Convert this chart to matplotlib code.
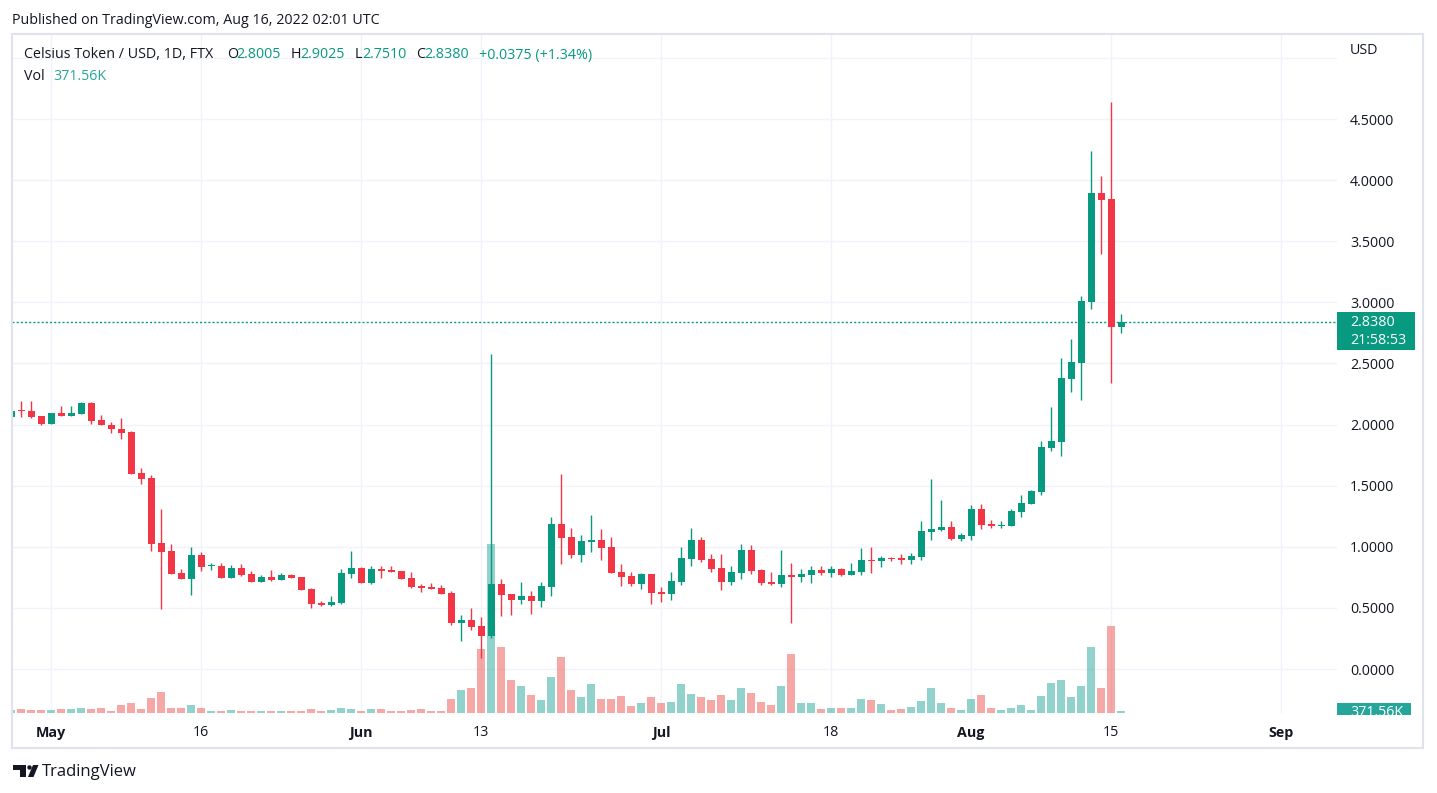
import numpy as np
import pandas as pd
import matplotlib
matplotlib.use("Agg")
import matplotlib.pyplot as plt
import matplotlib.dates as mdates
import matplotlib.transforms as mtransforms
from matplotlib.patches import Rectangle, Polygon, Circle

# CEL/USD daily candles, 27 Apr - 16 Aug 2022
dates = pd.date_range("2022-04-27", "2022-08-16", freq="D")

opens = [2.06, 2.115, 2.11, 2.07, 2.007, 2.095, 2.073, 2.09, 2.177, 2.038,
         2.0, 1.965, 1.94, 1.60, 1.563, 1.03, 0.966, 0.786, 0.739, 0.933,
         0.840, 0.843, 0.747, 0.827, 0.777, 0.712, 0.753, 0.728, 0.769, 0.753,
         0.655, 0.54, 0.524, 0.54, 0.777, 0.827, 0.704, 0.818, 0.81, 0.802,
         0.745, 0.679, 0.671, 0.663, 0.622, 0.376, 0.401, 0.352, 0.273, 0.696,
         0.614, 0.565, 0.597, 0.556, 0.671, 1.187, 1.08, 0.933, 1.039, 1.056,
         0.998, 0.794, 0.761, 0.696, 0.777, 0.63, 0.614, 0.712, 0.9, 1.056,
         0.9, 0.827, 0.712, 0.786, 0.974, 0.81, 0.712, 0.696, 0.769, 0.753,
         0.769, 0.81, 0.786, 0.818, 0.769, 0.794, 0.892, 0.884, 0.908, 0.908,
         0.892, 0.917, 1.121, 1.137, 1.162, 1.064, 1.091, 1.309, 1.187, 1.17,
         1.173, 1.287, 1.353, 1.451, 1.811, 1.86, 2.376, 2.507, 3.006, 3.895,
         3.846, 2.8005]
highs = [2.12, 2.19, 2.19, 2.07, 2.095, 2.152, 2.152, 2.185, 2.185, 2.079,
         2.02, 2.054, 1.948, 1.645, 1.588, 1.31, 1.023, 0.818, 0.998, 0.957,
         0.867, 0.867, 0.851, 0.859, 0.802, 0.769, 0.81, 0.786, 0.777, 0.753,
         0.663, 0.556, 0.597, 0.818, 0.966, 0.835, 0.843, 0.843, 0.843, 0.802,
         0.794, 0.696, 0.704, 0.687, 0.638, 0.442, 0.499, 0.428, 2.578, 0.736,
         0.614, 0.712, 0.638, 0.712, 1.244, 1.596, 1.154, 1.097, 1.26, 1.146,
         1.08, 0.859, 0.794, 0.786, 0.78, 0.671, 0.794, 0.998, 1.154, 1.08,
         0.941, 0.941, 0.843, 1.023, 1.015, 0.818, 0.794, 0.974, 0.867, 0.818,
         0.843, 0.843, 0.843, 0.827, 0.867, 0.99, 0.998, 0.925, 0.917, 0.941,
         0.949, 1.211, 1.555, 1.383, 1.211, 1.113, 1.342, 1.35, 1.219, 1.211,
         1.309, 1.424, 1.465, 1.866, 2.147, 2.548, 2.703, 3.052, 4.239, 4.034,
         4.64, 2.9025]
lows = [2.05, 2.065, 2.057, 2.0, 2.007, 2.073, 2.073, 2.089, 2.007, 1.998,
        1.934, 1.885, 1.598, 1.516, 0.968, 0.493, 0.78, 0.739, 0.608, 0.804,
        0.813, 0.747, 0.747, 0.763, 0.712, 0.712, 0.723, 0.728, 0.745, 0.646,
        0.499, 0.516, 0.516, 0.532, 0.745, 0.704, 0.696, 0.745, 0.794, 0.737,
        0.663, 0.63, 0.655, 0.614, 0.36, 0.229, 0.319, 0.092, 0.256, 0.434,
        0.442, 0.532, 0.45, 0.507, 0.597, 0.859, 0.908, 0.876, 0.957, 0.892,
        0.786, 0.679, 0.679, 0.655, 0.532, 0.548, 0.565, 0.687, 0.843, 0.876,
        0.794, 0.646, 0.687, 0.736, 0.777, 0.687, 0.687, 0.671, 0.376, 0.712,
        0.704, 0.769, 0.753, 0.761, 0.769, 0.769, 0.786, 0.835, 0.884, 0.859,
        0.859, 0.892, 1.056, 1.129, 1.056, 1.047, 1.056, 1.146, 1.154, 1.154,
        1.17, 1.244, 1.35, 1.424, 1.786, 1.745, 2.269, 2.204, 2.948, 3.399,
        2.343, 2.751]
closes = [2.11, 2.11, 2.065, 2.007, 2.095, 2.073, 2.095, 2.177, 2.032, 2.0,
          1.964, 1.934, 1.598, 1.557, 1.025, 0.96, 0.78, 0.739, 0.933, 0.837,
          0.845, 0.747, 0.827, 0.772, 0.712, 0.753, 0.728, 0.769, 0.745, 0.646,
          0.532, 0.524, 0.548, 0.786, 0.827, 0.704, 0.818, 0.802, 0.794, 0.737,
          0.671, 0.663, 0.655, 0.614, 0.376, 0.401, 0.344, 0.273, 0.696, 0.606,
          0.565, 0.597, 0.556, 0.679, 1.187, 1.072, 0.933, 1.047, 1.056, 0.99,
          0.786, 0.753, 0.696, 0.777, 0.622, 0.614, 0.72, 0.908, 1.056, 0.892,
          0.818, 0.712, 0.794, 0.974, 0.802, 0.704, 0.696, 0.769, 0.753, 0.777,
          0.81, 0.786, 0.818, 0.769, 0.802, 0.892, 0.884, 0.908, 0.9, 0.892,
          0.925, 1.129, 1.146, 1.162, 1.064, 1.097, 1.309, 1.178, 1.17, 1.178,
          1.293, 1.358, 1.457, 1.817, 1.866, 2.384, 2.512, 3.011, 3.895, 3.841,
          2.8005, 2.838]
# volume in thousands
volumes = [480, 650, 490, 480, 490, 640, 650, 810, 640, 800,
           330, 1290, 1620, 650, 2420, 3390, 810, 800, 1300, 810,
           330, 320, 490, 330, 320, 330, 320, 330, 320, 330,
           650, 330, 490, 800, 650, 320, 640, 650, 330, 320,
           490, 650, 330, 320, 2260, 3720, 4040, 10340, 27450, 10660,
           5330, 4360, 2910, 2100, 5810, 9040, 3720, 2580, 4680, 2260,
           2260, 2750, 1130, 1620, 2580, 1620, 1780, 4680, 3070, 2580,
           2100, 2910, 2100, 4040, 3230, 1780, 1290, 4360, 9530, 1620,
           1620, 650, 810, 800, 810, 2260, 2100, 1450, 490, 650,
           970, 1940, 4040, 1620, 810, 490, 2260, 2910, 810, 490,
           810, 1290, 490, 2750, 4850, 5330, 2580, 4360, 10660, 4040,
           14050, 371.56]

tick_dates = ["2022-05-01", "2022-05-16", "2022-06-01", "2022-06-13", "2022-07-01",
              "2022-07-18", "2022-08-01", "2022-08-15", "2022-09-01"]
tick_labels = ["May", "16", "Jun", "13", "Jul", "18", "Aug", "15", "Sep"]
month_labels = ["May", "Jun", "Jul", "Aug", "Sep"]
price_ticks = [0.0, 0.5, 1.0, 1.5, 2.0, 2.5, 3.0, 3.5, 4.0, 4.5, 5.0]

UP = "#089981"
DOWN = "#f23645"
VUP = "#26a69a"
VDOWN = "#ef5350"
DARK = "#131722"
GRID = "#f0f3fa"
FONT = "Open Sans"
FS = 10.3

W, H = 1437, 793
fig = plt.figure(figsize=(W / 100, H / 100), dpi=100)
fig.patch.set_facecolor("white")

# plot pane in pixel terms
L, R, T, B = 12, 1337, 34, 713
ax = fig.add_axes([L / W, 1 - B / H, (R - L) / W, (B - T) / H])

x = mdates.date2num(dates)
o = np.array(opens)
h = np.array(highs)
l = np.array(lows)
c = np.array(closes)
v = np.array(volumes)
up = c >= o
colors = np.where(up, UP, DOWN)

# volume overlay: y scaled to the bottom of the pane
VOL_TOP = 110000
vol_tr = mtransforms.blended_transform_factory(
    ax.transData, mtransforms.Affine2D().scale(1, 1 / VOL_TOP) + ax.transAxes)
ax.bar(x, v, width=0.85, color=np.where(up, VUP, VDOWN), alpha=0.5,
       transform=vol_tr, zorder=1, linewidth=0)

# candles
ax.vlines(x, l, h, colors=colors, lw=1.0, zorder=2)
body = np.maximum(np.abs(c - o), 0.009)
ax.bar(x, body, bottom=np.minimum(o, c), width=0.7, color=colors, zorder=3, linewidth=0)

# last price line
ax.axhline(closes[-1], color=UP, lw=1, linestyle=(0, (1.5, 1.5)), zorder=2)

may1 = mdates.date2num(pd.Timestamp("2022-05-01"))
ax.set_xlim(may1 - 3.9, may1 + 128.6)
ax.set_ylim(-0.36, 5.196)

ax.set_xticks(mdates.date2num(pd.to_datetime(tick_dates)))
ax.set_xticklabels(tick_labels)
ax.set_yticks(price_ticks)
ax.set_yticklabels([f"{p:.4f}" if p < 5 else "" for p in price_ticks])
ax.yaxis.tick_right()
ax.tick_params(axis="y", length=0, pad=9.5, labelsize=FS, labelcolor=DARK)
ax.tick_params(axis="x", length=0, pad=9, labelsize=FS, labelcolor=DARK)
for lab in ax.get_xticklabels() + ax.get_yticklabels():
    lab.set_fontfamily(FONT)
for lab in ax.get_xticklabels():
    if lab.get_text() in month_labels:
        lab.set_fontweight("bold")
ax.grid(True, color=GRID, lw=1)
ax.set_axisbelow(True)
for s in ax.spines.values():
    s.set_visible(False)

# price scale labels (last price box)
px_per_unit = (B - T) / (5.196 + 0.36)
box_w = 78 / (R - L)
blend = mtransforms.blended_transform_factory(ax.transAxes, ax.transData)
ax.add_patch(Rectangle((1.0, closes[-1] - 28 / px_per_unit), box_w, 38 / px_per_unit,
                       transform=blend, facecolor=UP, edgecolor="none", clip_on=False, zorder=5))
ax.text(1 + 13 / (R - L), closes[-1], f"{closes[-1]:.4f}", transform=blend,
        color="white", fontsize=FS, fontfamily=FONT, va="center", ha="left", clip_on=False, zorder=6)
ax.text(1 + 13 / (R - L), closes[-1] - 18 / px_per_unit, "21:58:53", transform=blend,
        color="white", fontsize=FS, fontfamily=FONT, va="center", ha="left", clip_on=False, zorder=6)

# overlay in image pixels for frame, header and footer
ov = fig.add_axes([0, 0, 1, 1], zorder=10)
ov.set_xlim(0, W)
ov.set_ylim(H, 0)
ov.axis("off")
ov.patch.set_visible(False)

ov.add_patch(Rectangle((12, 34), 1411, 714, fill=False, edgecolor="#e0e3eb", lw=1.5))

# volume label on price scale, clipped by the time scale
scale_clip = mtransforms.TransformedBbox(mtransforms.Bbox.from_extents(R, 34, 1423, 715), ov.transData)
vb = ov.add_patch(Rectangle((R, 703), 74, 14, facecolor=VUP, edgecolor="none"))
vb.set_clip_box(scale_clip)
vt = ov.text(1350, 713, "371.56K", color="white", fontsize=FS, fontfamily=FONT, va="center", ha="left")
vt.set_clip_box(scale_clip)
vt.set_clip_on(True)

ov.text(1350, 51, "USD", color=DARK, fontsize=FS, fontfamily=FONT, va="center", ha="left")

ov.text(12, 20, "Published on TradingView.com, Aug 16, 2022 02:01 UTC", color=DARK,
        fontsize=FS, fontfamily=FONT, va="center", ha="left")

HY, VY = 55, 76
ov.text(24, HY, "Celsius Token / USD, 1D, FTX", color=DARK, fontsize=FS, fontfamily=FONT, va="center")
legend = [("O", 227, "2.8005", 236), ("H", 291, "2.9025", 300),
          ("L", 355, "2.7510", 362), ("C", 416, "2.8380", 424)]
for key, kx, val, vx in legend:
    ov.text(kx, HY, key, color=DARK, fontsize=FS, fontfamily=FONT, va="center")
    ov.text(vx, HY, val, color=UP, fontsize=FS, fontfamily=FONT, va="center")
ov.text(479, HY, "+0.0375 (+1.34%)", color=UP, fontsize=FS, fontfamily=FONT, va="center")
ov.text(24, VY, "Vol", color=DARK, fontsize=FS, fontfamily=FONT, va="center")
ov.text(53, VY, "371.56K", color=VUP, fontsize=FS, fontfamily=FONT, va="center")

# TradingView logo
ov.add_patch(Polygon([(13, 765), (26, 765), (26, 777), (20, 777), (20, 769.5), (13, 769.5)],
                     closed=True, facecolor=DARK, edgecolor="none"))
ov.add_patch(Circle((29.5, 767.5), 2.2, facecolor=DARK, edgecolor="none"))
ov.add_patch(Polygon([(33, 765), (38.5, 765), (33.5, 777), (28, 777)],
                     closed=True, facecolor=DARK, edgecolor="none"))
ov.text(42, 772, "TradingView", color=DARK, fontsize=12, fontfamily=FONT, va="center", ha="left")

fig.savefig("out.png", dpi=100, facecolor="white")
